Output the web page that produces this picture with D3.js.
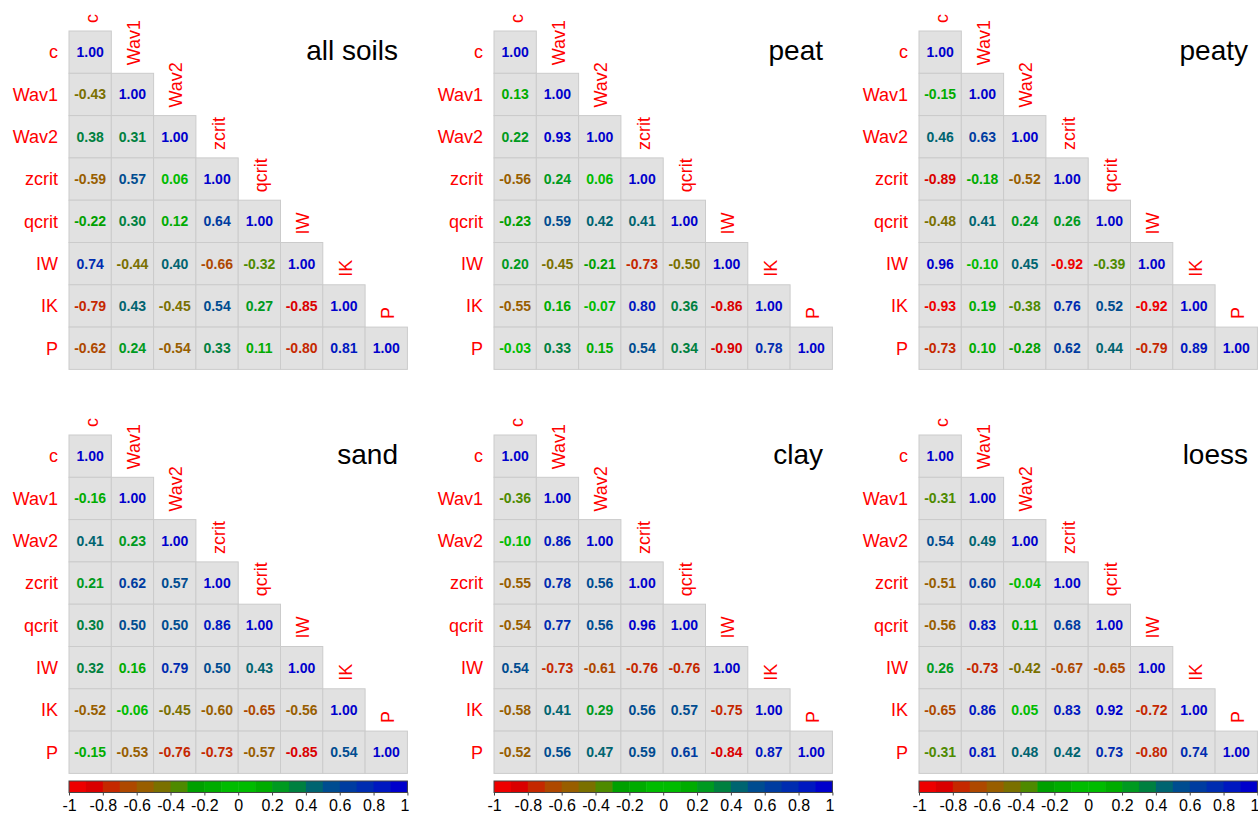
<!DOCTYPE html>
<html>
<head>
<meta charset="utf-8">
<script src="https://cdn.jsdelivr.net/npm/d3@7/dist/d3.min.js"></script>
<style>
  body { margin: 0; background: #fff; }
  svg { display: block; font-family: "Liberation Sans", Arial, sans-serif; }
</style>
</head>
<body>
<div id="canvas"></div>
<script>
// variable names (rows and columns of every matrix)
var vars = ['c', 'Wav1', 'Wav2', 'zcrit', 'qcrit', 'IW', 'IK', 'P'];

var panelTitles = ['all soils', 'peat', 'peaty', 'sand', 'clay', 'loess'];

// lower triangle (incl. diagonal) per soil type, row by row
var allSoils = [
  [1.00],
  [-0.43, 1.00],
  [0.38, 0.31, 1.00],
  [-0.59, 0.57, 0.06, 1.00],
  [-0.22, 0.30, 0.12, 0.64, 1.00],
  [0.74, -0.44, 0.40, -0.66, -0.32, 1.00],
  [-0.79, 0.43, -0.45, 0.54, 0.27, -0.85, 1.00],
  [-0.62, 0.24, -0.54, 0.33, 0.11, -0.80, 0.81, 1.00]
];
var peat = [
  [1.00],
  [0.13, 1.00],
  [0.22, 0.93, 1.00],
  [-0.56, 0.24, 0.06, 1.00],
  [-0.23, 0.59, 0.42, 0.41, 1.00],
  [0.20, -0.45, -0.21, -0.73, -0.50, 1.00],
  [-0.55, 0.16, -0.07, 0.80, 0.36, -0.86, 1.00],
  [-0.03, 0.33, 0.15, 0.54, 0.34, -0.90, 0.78, 1.00]
];
var peaty = [
  [1.00],
  [-0.15, 1.00],
  [0.46, 0.63, 1.00],
  [-0.89, -0.18, -0.52, 1.00],
  [-0.48, 0.41, 0.24, 0.26, 1.00],
  [0.96, -0.10, 0.45, -0.92, -0.39, 1.00],
  [-0.93, 0.19, -0.38, 0.76, 0.52, -0.92, 1.00],
  [-0.73, 0.10, -0.28, 0.62, 0.44, -0.79, 0.89, 1.00]
];
var sand = [
  [1.00],
  [-0.16, 1.00],
  [0.41, 0.23, 1.00],
  [0.21, 0.62, 0.57, 1.00],
  [0.30, 0.50, 0.50, 0.86, 1.00],
  [0.32, 0.16, 0.79, 0.50, 0.43, 1.00],
  [-0.52, -0.06, -0.45, -0.60, -0.65, -0.56, 1.00],
  [-0.15, -0.53, -0.76, -0.73, -0.57, -0.85, 0.54, 1.00]
];
var clay = [
  [1.00],
  [-0.36, 1.00],
  [-0.10, 0.86, 1.00],
  [-0.55, 0.78, 0.56, 1.00],
  [-0.54, 0.77, 0.56, 0.96, 1.00],
  [0.54, -0.73, -0.61, -0.76, -0.76, 1.00],
  [-0.58, 0.41, 0.29, 0.56, 0.57, -0.75, 1.00],
  [-0.52, 0.56, 0.47, 0.59, 0.61, -0.84, 0.87, 1.00]
];
var loess = [
  [1.00],
  [-0.31, 1.00],
  [0.54, 0.49, 1.00],
  [-0.51, 0.60, -0.04, 1.00],
  [-0.56, 0.83, 0.11, 0.68, 1.00],
  [0.26, -0.73, -0.42, -0.67, -0.65, 1.00],
  [-0.65, 0.86, 0.05, 0.83, 0.92, -0.72, 1.00],
  [-0.31, 0.81, 0.48, 0.42, 0.73, -0.80, 0.74, 1.00]
];

var colorbarTicks = [-1, -0.8, -0.6, -0.4, -0.2, 0, 0.2, 0.4, 0.6, 0.8, 1];

var matrices = [allSoils, peat, peaty, sand, clay, loess];

// 20 bins from -1 to 1, red -> green -> blue
var palette = ['#ee0000', '#da0000', '#c52800', '#ae4800', '#985e00',
               '#7a7000', '#4e8a00', '#00a000', '#00ac00', '#00bc00',
               '#00bc00', '#00ac00', '#009a20', '#008040', '#006470',
               '#004c90', '#003ca0', '#002cb0', '#0018c0', '#0000cc'];

var width = 1258, height = 814;
var cell = 42.3;
var gridSize = cell * vars.length;
var colLefts = [69, 494, 919];
var rowTops = [31, 435];

var svg = d3.select('#canvas').append('svg')
  .attr('width', width)
  .attr('height', height);

var color = d3.scaleQuantize().domain([-1, 1]).range(palette);
var pos = d3.scaleBand().domain(vars).range([0, gridSize]);

// Draw one triangular correlation matrix
DrawPanel = function(g, matrix, title) {
  var cells = [];
  matrix.forEach(function(row, i) {
    row.forEach(function(v, j) {
      cells.push({ row: vars[i], col: vars[j], v: v });
    });
  });

  g.selectAll('rect.cell').data(cells).enter().append('rect')
    .attr('class', 'cell')
    .attr('x', function(d) { return pos(d.col); })
    .attr('y', function(d) { return pos(d.row); })
    .attr('width', pos.bandwidth())
    .attr('height', pos.bandwidth())
    .attr('fill', '#e1e1e1')
    .attr('stroke', '#cbcbcb')
    .attr('stroke-width', 1);

  g.selectAll('text.val').data(cells).enter().append('text')
    .attr('class', 'val')
    .attr('x', function(d) { return pos(d.col) + pos.bandwidth() / 2; })
    .attr('y', function(d) { return pos(d.row) + pos.bandwidth() / 2; })
    .attr('dy', '0.36em')
    .attr('text-anchor', 'middle')
    .attr('font-size', 14)
    .attr('font-weight', 'bold')
    .attr('fill', function(d) { return color(d.v); })
    .text(function(d) { return d.v.toFixed(2); });

  // row labels on the left
  g.selectAll('text.rowlab').data(vars).enter().append('text')
    .attr('class', 'rowlab')
    .attr('x', -11)
    .attr('y', function(d) { return pos(d) + pos.bandwidth() / 2; })
    .attr('dy', '0.35em')
    .attr('text-anchor', 'end')
    .attr('font-size', 18)
    .attr('fill', '#ff0000')
    .text(function(d) { return d; });

  // column labels above the diagonal, rotated
  g.selectAll('text.collab').data(vars).enter().append('text')
    .attr('class', 'collab')
    .attr('transform', function(d) {
      return 'translate(' + (pos(d) + pos.bandwidth() / 2) + ',' + (pos(d) - 8) + ') rotate(-90)';
    })
    .attr('dy', '0.42em')
    .attr('text-anchor', 'start')
    .attr('font-size', 18)
    .attr('fill', '#ff0000')
    .text(function(d) { return d; });

  g.append('text')
    .attr('x', 329)
    .attr('y', 29)
    .attr('text-anchor', 'end')
    .attr('font-size', 28)
    .attr('fill', '#000')
    .text(title);
}

// Draw the colour key under a bottom panel
DrawColorbar = function(g) {
  var lin = d3.scaleLinear().domain([-1, 1]).range([0, gridSize]);
  var barH = 11.5;
  var step = 2 / palette.length;

  g.selectAll('rect.bin').data(palette).enter().append('rect')
    .attr('class', 'bin')
    .attr('x', function(d, i) { return lin(-1 + i * step); })
    .attr('y', 0)
    .attr('width', function(d, i) { return lin(-1 + (i + 1) * step) - lin(-1 + i * step) + 0.5; })
    .attr('height', barH)
    .attr('fill', function(d) { return d; });

  g.append('rect')
    .attr('x', 0).attr('y', 0)
    .attr('width', gridSize).attr('height', barH)
    .attr('fill', 'none')
    .attr('stroke', '#444')
    .attr('stroke-width', 1);

  var axis = d3.axisBottom(lin)
    .tickValues(colorbarTicks)
    .tickSize(3)
    .tickPadding(4)
    .tickFormat(function(d) { return String(+d.toFixed(1)); });

  var ax = g.append('g')
    .attr('transform', 'translate(0,' + barH + ')')
    .call(axis);
  ax.attr('font-size', null).attr('font-family', null);
  ax.select('.domain').remove();
  ax.selectAll('line').attr('stroke', '#444');
  ax.selectAll('text')
    .style('font-size', '16px')
    .style('font-family', '"Liberation Sans", Arial, sans-serif')
    .attr('fill', '#000')
    .attr('dx', function(d) { return d === 1 ? -3 : 0; });
}

matrices.forEach(function(m, k) {
  var col = k % 3, row = Math.floor(k / 3);
  var g = svg.append('g')
    .attr('transform', 'translate(' + colLefts[col] + ',' + rowTops[row] + ')');
  DrawPanel(g, m, panelTitles[k]);

  if (row === 1) {
    var cb = svg.append('g')
      .attr('transform', 'translate(' + colLefts[col] + ',781)');
    DrawColorbar(cb);
  }
});
</script>
</body>
</html>
